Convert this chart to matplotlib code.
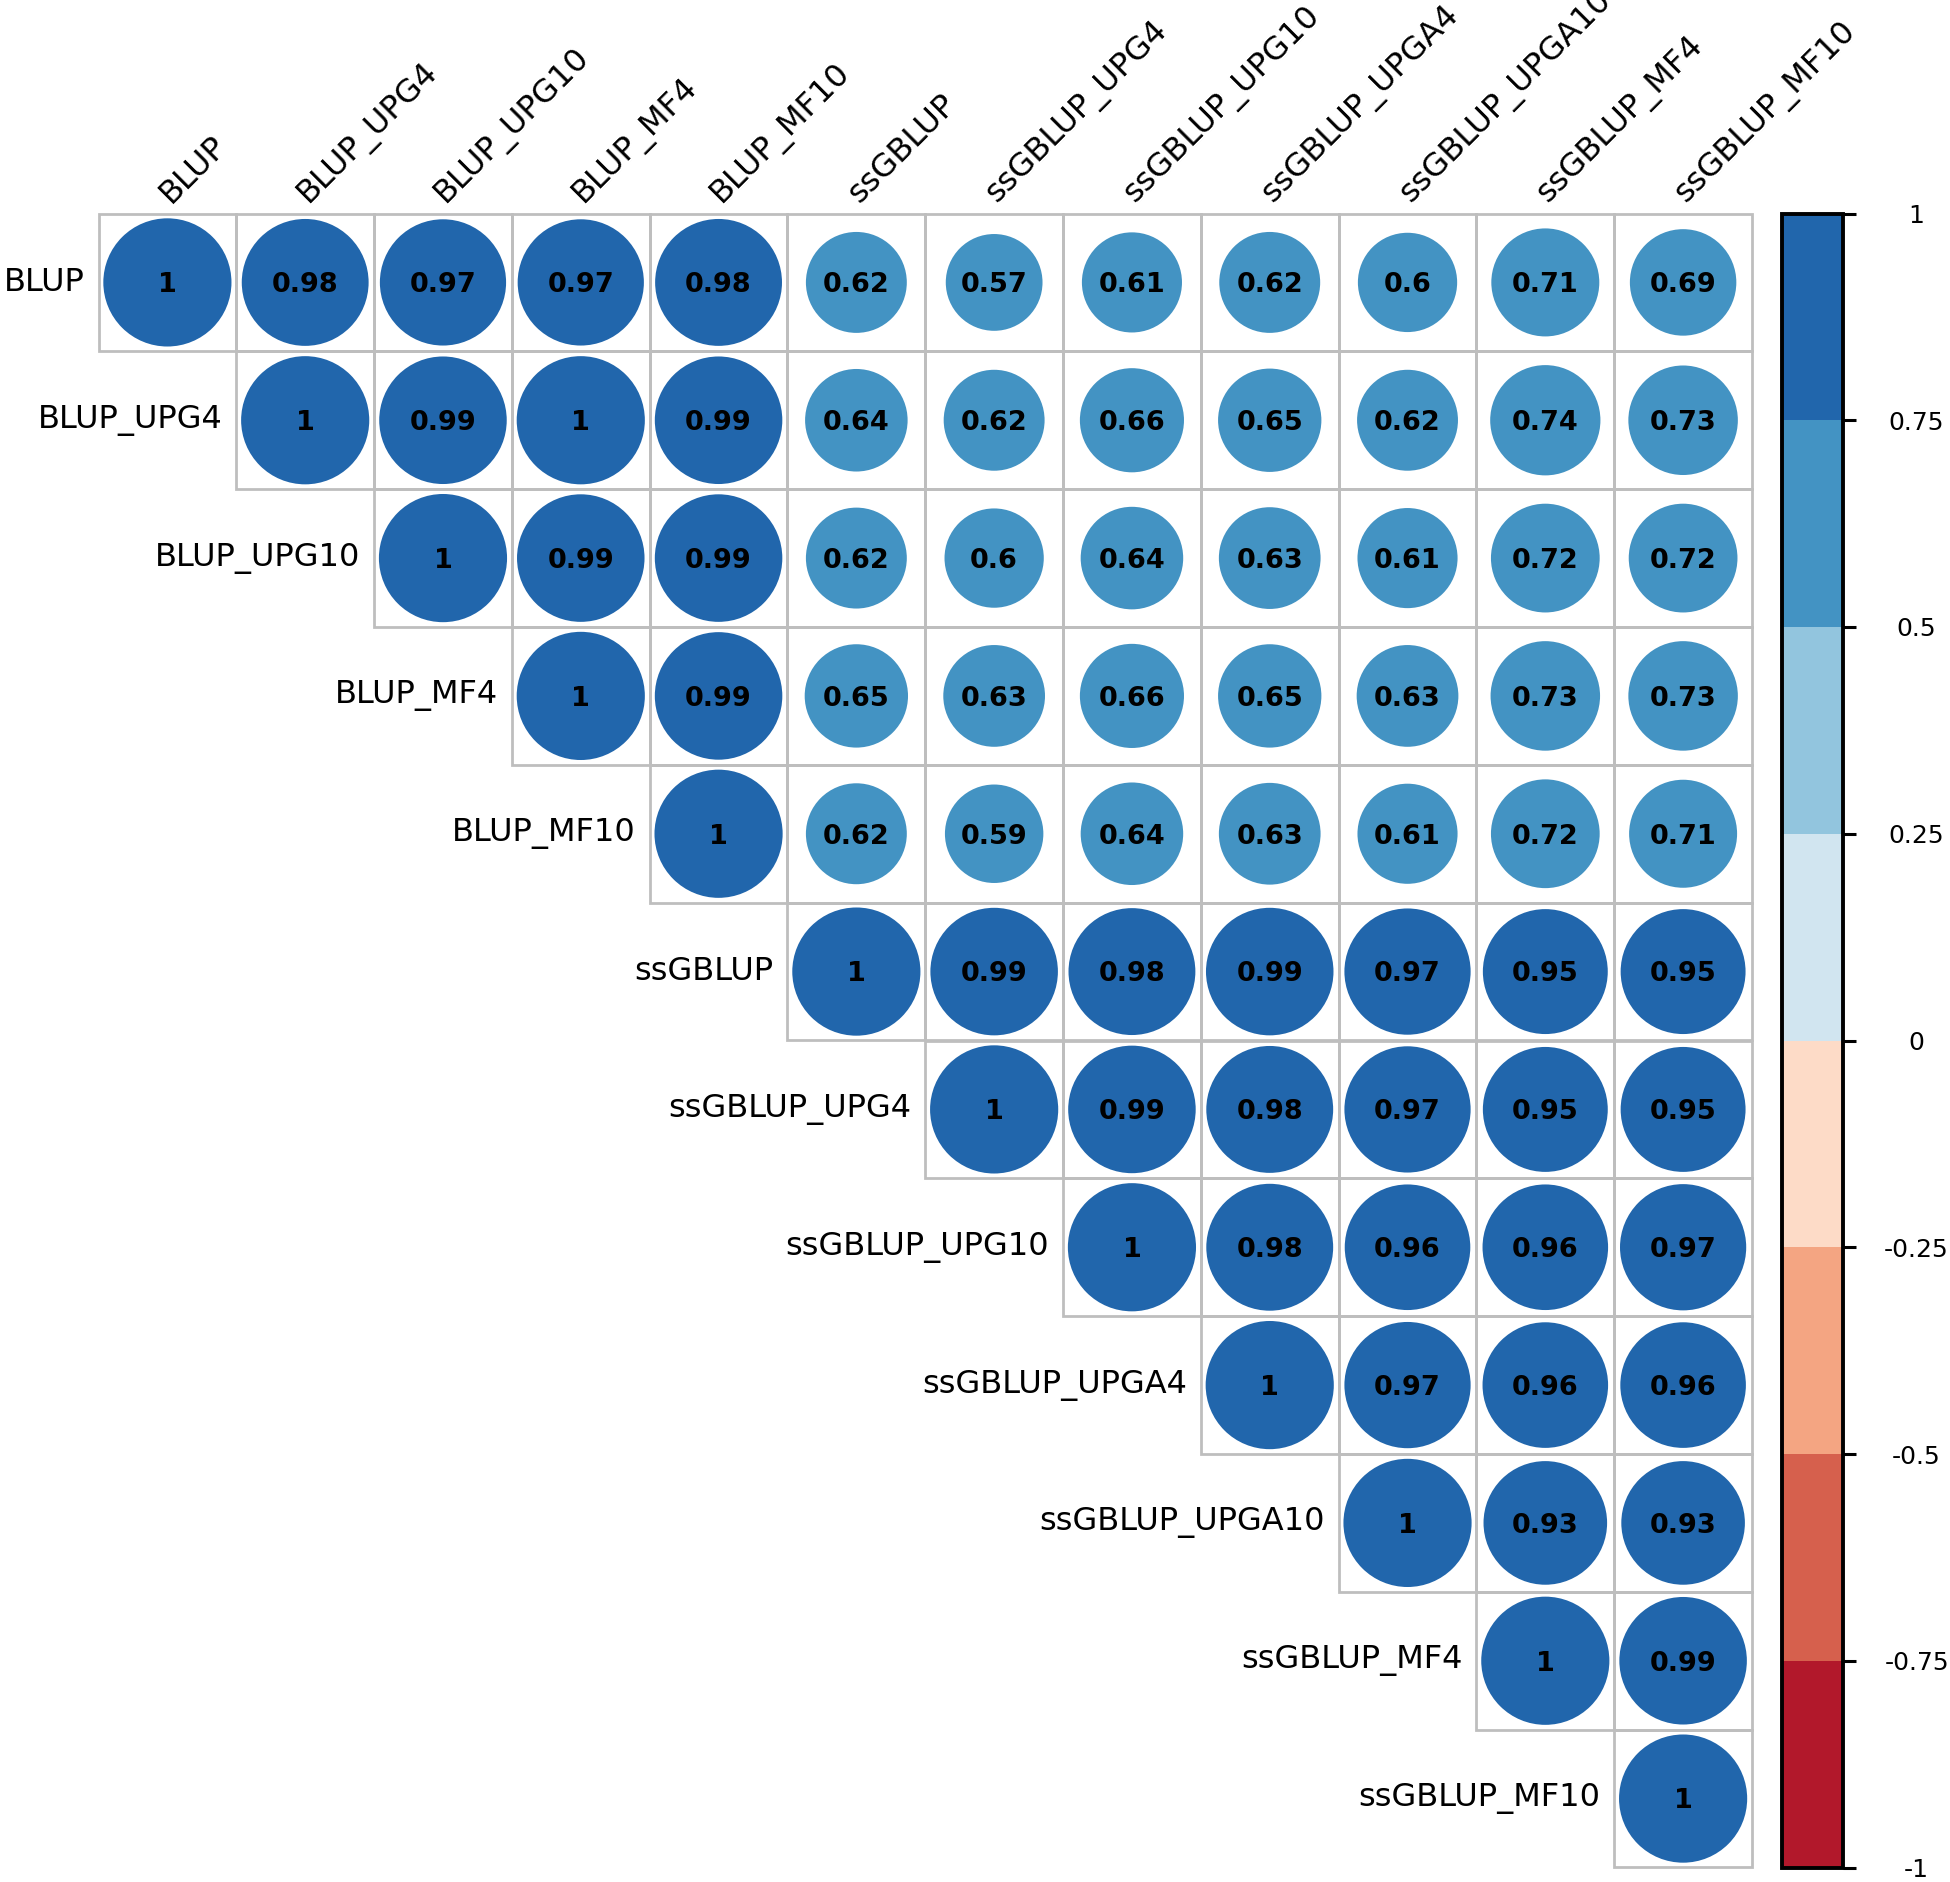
import numpy as np
import matplotlib
matplotlib.use("Agg")
import matplotlib.pyplot as plt
from matplotlib.patches import Circle, Rectangle
from matplotlib.colors import ListedColormap, BoundaryNorm
from matplotlib.colorbar import ColorbarBase

# variable names (rows and columns)
labels = ["BLUP", "BLUP_UPG4", "BLUP_UPG10", "BLUP_MF4", "BLUP_MF10", "ssGBLUP",
          "ssGBLUP_UPG4", "ssGBLUP_UPG10", "ssGBLUP_UPGA4", "ssGBLUP_UPGA10",
          "ssGBLUP_MF4", "ssGBLUP_MF10"]

# upper triangle of the correlation matrix, row by row (diagonal first)
row_blup = [1, 0.98, 0.97, 0.97, 0.98, 0.62, 0.57, 0.61, 0.62, 0.6, 0.71, 0.69]
row_blup_upg4 = [1, 0.99, 1, 0.99, 0.64, 0.62, 0.66, 0.65, 0.62, 0.74, 0.73]
row_blup_upg10 = [1, 0.99, 0.99, 0.62, 0.6, 0.64, 0.63, 0.61, 0.72, 0.72]
row_blup_mf4 = [1, 0.99, 0.65, 0.63, 0.66, 0.65, 0.63, 0.73, 0.73]
row_blup_mf10 = [1, 0.62, 0.59, 0.64, 0.63, 0.61, 0.72, 0.71]
row_ssgblup = [1, 0.99, 0.98, 0.99, 0.97, 0.95, 0.95]
row_ssgblup_upg4 = [1, 0.99, 0.98, 0.97, 0.95, 0.95]
row_ssgblup_upg10 = [1, 0.98, 0.96, 0.96, 0.97]
row_ssgblup_upga4 = [1, 0.97, 0.96, 0.96]
row_ssgblup_upga10 = [1, 0.93, 0.93]
row_ssgblup_mf4 = [1, 0.99]
row_ssgblup_mf10 = [1]

rows = [row_blup, row_blup_upg4, row_blup_upg10, row_blup_mf4, row_blup_mf10,
        row_ssgblup, row_ssgblup_upg4, row_ssgblup_upg10, row_ssgblup_upga4,
        row_ssgblup_upga10, row_ssgblup_mf4, row_ssgblup_mf10]

# colour bar bins (RdBu, 8 classes)
bin_edges = [-1, -0.75, -0.5, -0.25, 0, 0.25, 0.5, 0.75, 1]
bin_colors = ["#B2182B", "#D6604D", "#F4A582", "#FDDBC7",
              "#D1E5F0", "#92C5DE", "#4393C3", "#2166AC"]
cbar_ticks = [-1, -0.75, -0.5, -0.25, 0, 0.25, 0.5, 0.75, 1]

n = len(labels)
W, H = 1950, 1882
fig = plt.figure(figsize=(W / 100, H / 100), dpi=100)
plt.rcParams['font.family'] = ['DejaVu Sans']

# grid position in pixels
gx0, gx1 = 98.5, 1752.0
gy0, gy1 = 213.5, 1867.5
ax = fig.add_axes([gx0 / W, 1 - gy1 / H, (gx1 - gx0) / W, (gy1 - gy0) / H])
ax.set_xlim(0, n)
ax.set_ylim(n, 0)
ax.axis("off")

cmap = ListedColormap(bin_colors)
norm = BoundaryNorm(bin_edges, cmap.N)

for i, vals in enumerate(rows):
    for k, v in enumerate(vals):
        j = i + k
        ax.add_patch(Rectangle((j, i), 1, 1, facecolor="none", edgecolor="#BEBEBE",
                               linewidth=2.0, clip_on=False, zorder=1))
        r = 0.465 * np.sqrt(abs(v))
        ax.add_patch(Circle((j + 0.5, i + 0.5), r, facecolor=cmap(norm(v)),
                            edgecolor="none", zorder=2))
        ax.text(j + 0.5, i + 0.52, f"{v:g}", ha="center", va="center",
                fontsize=19.5, fontweight="bold", color="black", zorder=3)

# row labels
for i, lab in enumerate(labels):
    ax.text(i - 0.1, i + 0.5, lab, ha="right", va="center", fontsize=23,
            color="black", clip_on=False)

# column labels, rotated 45 degrees
for j, lab in enumerate(labels):
    ax.text(j + 0.56, -0.03, lab, ha="left", va="bottom", rotation=45,
            rotation_mode="anchor", fontsize=23, color="black", clip_on=False)

# colour bar
cx0, cx1 = 1781.5, 1843.0
cax = fig.add_axes([cx0 / W, 1 - gy1 / H, (cx1 - cx0) / W, (gy1 - gy0) / H])
cb = ColorbarBase(cax, cmap=cmap, norm=norm, boundaries=bin_edges,
                  ticks=cbar_ticks, orientation="vertical")
cb.outline.set_linewidth(2.8)
cb.outline.set_edgecolor("black")
cb.set_ticklabels([f"{t:g}" for t in cbar_ticks])
cax.tick_params(axis="y", length=9, width=2.2, color="black", pad=44,
                labelsize=18, right=True, left=False)
for t in cax.get_yticklabels():
    t.set_horizontalalignment("center")

fig.savefig("out.png", dpi=100, facecolor="white")
